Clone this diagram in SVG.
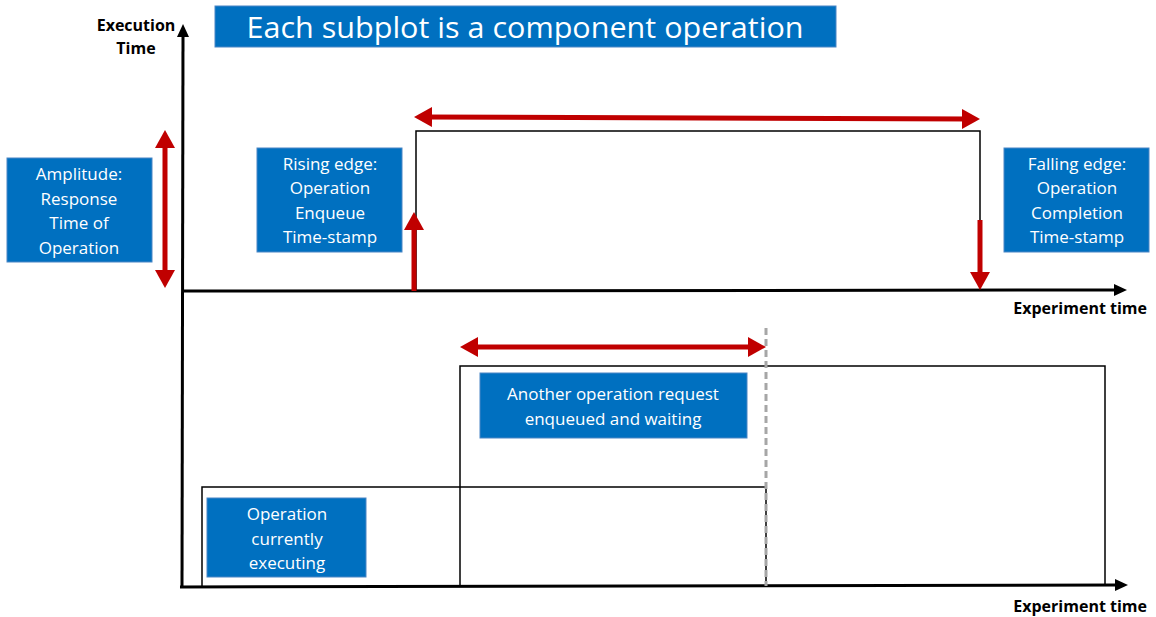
<svg xmlns="http://www.w3.org/2000/svg" width="1156" height="617" viewBox="0 0 1156 617">
<style>
.box{fill:#0070C0;stroke:#4A86C5;stroke-width:1}
.bt{font-family:"Open Sans","Liberation Sans",sans-serif;font-size:17px;fill:#fff;text-anchor:middle}
.ax{fill:none;stroke:#000;stroke-width:3}
.thin{fill:none;stroke:#000;stroke-width:1.5}
.red{fill:none;stroke:#C00000;stroke-width:5;marker-end:url(#rh)}
.red2{fill:none;stroke:#C00000;stroke-width:5;marker-start:url(#rh);marker-end:url(#rh)}
.lab{font-family:"Open Sans","Liberation Sans",sans-serif;font-size:16px;font-weight:bold;fill:#000}
</style>
<defs>
<marker id="rh" viewBox="0 0 18 20" refX="8" refY="10" markerWidth="18" markerHeight="20" markerUnits="userSpaceOnUse" orient="auto-start-reverse">
<path d="M0,0 L18,10 L0,20 z" fill="#C00000"/>
</marker>
<marker id="kh" viewBox="0 0 13 12" refX="3" refY="6" markerWidth="13" markerHeight="12" markerUnits="userSpaceOnUse" orient="auto">
<path d="M0,0 L13,6 L0,12 z" fill="#000"/>
</marker>
</defs>
<rect width="1156" height="617" fill="#fff"/>

<g id="title">
<rect class="box" x="215" y="6" width="621" height="41" stroke="none"/>
<text x="525" y="38" font-family="'Open Sans','Liberation Sans',sans-serif" font-size="30" fill="#fff" text-anchor="middle" textLength="557" lengthAdjust="spacingAndGlyphs">Each subplot is a component operation</text>
</g>

<g id="axes">
<path class="ax" d="M182,588 L183,34" marker-end="url(#kh)"/>
<path class="ax" d="M183,291 L1117,290" marker-end="url(#kh)"/>
<path class="ax" d="M180,587 L1118,585" marker-end="url(#kh)"/>
<text class="lab" x="136" y="31" text-anchor="middle">Execution</text>
<text class="lab" x="136" y="54" text-anchor="middle">Time</text>
<text class="lab" x="1147" y="314" text-anchor="end">Experiment time</text>
<text class="lab" x="1147" y="612" text-anchor="end">Experiment time</text>
</g>

<g id="upper-pulse">
<polyline class="thin" points="416,291 416,131 980,131 980,291"/>
</g>

<g id="lower-pulses">
<polyline class="thin" points="202,586 202,487 766,487 766,586"/>
<polyline class="thin" points="460,586 460,366 1105,366 1105,586"/>
<line x1="766" y1="328" x2="766" y2="586" stroke="#A6A6A6" stroke-width="3" stroke-dasharray="7,4"/>
</g>

<g id="connectors">
<line class="red2" x1="165" y1="140" x2="165" y2="278"/>
<line class="red2" x1="424" y1="117" x2="970" y2="119"/>
<line class="red" x1="414" y1="291" x2="414" y2="222"/>
<line class="red" x1="980" y1="220" x2="980" y2="280"/>
<line class="red2" x1="470" y1="347" x2="756" y2="347"/>
</g>

<g id="amplitude">
<rect class="box" x="7" y="158" width="145" height="104"/>
<text class="bt" x="79" y="180">Amplitude:</text>
<text class="bt" x="79" y="205">Response</text>
<text class="bt" x="79" y="229">Time of</text>
<text class="bt" x="79" y="254">Operation</text>
</g>

<g id="rising-edge">
<rect class="box" x="257" y="148" width="145" height="104"/>
<text class="bt" x="330" y="170">Rising edge:</text>
<text class="bt" x="330" y="194">Operation</text>
<text class="bt" x="330" y="219">Enqueue</text>
<text class="bt" x="330" y="243">Time-stamp</text>
</g>

<g id="falling-edge">
<rect class="box" x="1004" y="148" width="145" height="104"/>
<text class="bt" x="1077" y="170">Falling edge:</text>
<text class="bt" x="1077" y="194">Operation</text>
<text class="bt" x="1077" y="219">Completion</text>
<text class="bt" x="1077" y="243">Time-stamp</text>
</g>

<g id="another-operation">
<rect class="box" x="480" y="373" width="267" height="65"/>
<text class="bt" x="613" y="400">Another operation request</text>
<text class="bt" x="613" y="425">enqueued and waiting</text>
</g>

<g id="currently-executing">
<rect class="box" x="207" y="498" width="159" height="79"/>
<text class="bt" x="287" y="520">Operation</text>
<text class="bt" x="287" y="545">currently</text>
<text class="bt" x="287" y="569">executing</text>
</g>
</svg>
